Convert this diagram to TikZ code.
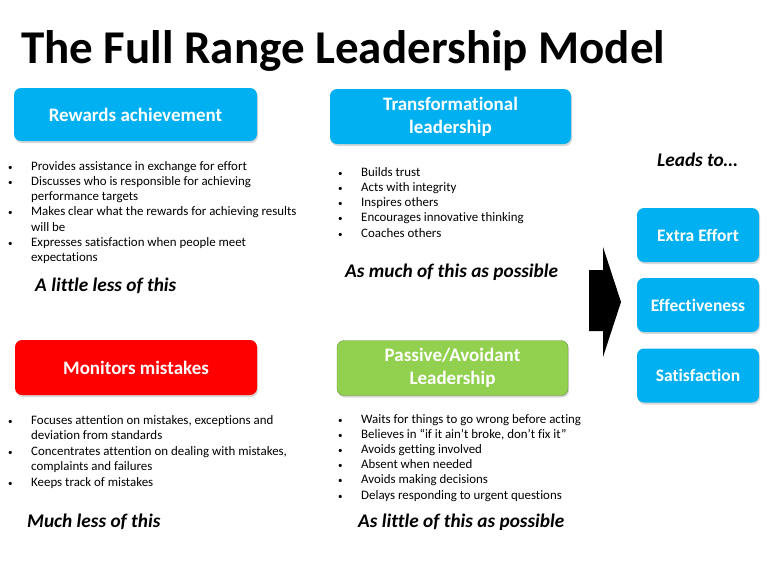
\documentclass[tikz,border=0pt]{standalone}
\usepackage{fontspec}
\setmainfont[Ligatures=NoCommon]{Carlito}
\usetikzlibrary{shadows}
\definecolor{boxblue}{HTML}{00B0F0}
\definecolor{boxred}{HTML}{FF0000}
\definecolor{boxgreen}{HTML}{92D050}
\tikzset{
  stylebox/.style={rounded corners=7pt, text=white, align=center, inner sep=0pt,
    font=\fontsize{19}{23}\selectfont\bfseries,
    drop shadow={opacity=0.3, shadow xshift=1pt, shadow yshift=-2pt}},
  resultbox/.style={stylebox, fill=boxblue, minimum width=122pt, minimum height=54pt,
    font=\fontsize{17.5}{21}\selectfont\bfseries},
  listbox/.style={anchor=base west, inner sep=0pt},
  motto/.style={anchor=base west, inner sep=0pt, font=\fontsize{19.3}{22}\selectfont\bfseries\itshape},
}
\newcommand{\bt}{\makebox[23pt][l]{\fontsize{9}{9}\selectfont\textbullet}}
\newcommand{\lst}[2]{\fontsize{12.9}{#1}\selectfont\begin{tabular}[t]{@{}l@{}l@{}}#2\end{tabular}}
\begin{document}
\begin{tikzpicture}[x=1pt,y=-1pt]
\useasboundingbox (0,0) rectangle (768,576);
\fill[white] (0,0) rectangle (768,576);

\node[anchor=base west, inner sep=0pt, font=\fontsize{47}{56}\selectfont\bfseries] (title) at (21,63) {The Full Range Leadership Model};

% style boxes
\node[stylebox, fill=boxblue, minimum width=243pt, minimum height=53pt] (rewards) at (135.5,114.5) {Rewards achievement};
\node[stylebox, fill=boxblue, minimum width=241pt, minimum height=55pt] (transf) at (450.5,116.5) {Transformational\\leadership};
\node[stylebox, fill=boxred, minimum width=242pt, minimum height=55pt] (monitors) at (136,367.5) {Monitors mistakes};
\node[stylebox, fill=boxgreen, draw=boxgreen!70!black, minimum width=231pt, minimum height=55pt] (passive) at (452.5,368) {Passive/Avoidant\\Leadership};

% bullet lists
\node[listbox] (rewardslist) at (8,170) {\lst{15.3}{
  \bt & Provides assistance in exchange for effort\\
  \bt & Discusses who is responsible for achieving\\
      & performance targets\\
  \bt & Makes clear what the rewards for achieving results\\
      & will be\\
  \bt & Expresses satisfaction when people meet\\
      & expectations}};
\node[listbox] (transflist) at (338,176) {\lst{15.25}{
  \bt & Builds trust\\
  \bt & Acts with integrity\\
  \bt & Inspires others\\
  \bt & Encourages innovative thinking\\
  \bt & Coaches others}};
\node[listbox] (monitorslist) at (8,424) {\lst{15.5}{
  \bt & Focuses attention on mistakes, exceptions and\\
      & deviation from standards\\
  \bt & Concentrates attention on dealing with mistakes,\\
      & complaints and failures\\
  \bt & Keeps track of mistakes}};
\node[listbox] (passivelist) at (338,423) {\lst{15.2}{
  \bt & Waits for things to go wrong before acting\\
  \bt & Believes in “if it ain’t broke, don’t fix it”\\
  \bt & Avoids getting involved\\
  \bt & Absent when needed\\
  \bt & Avoids making decisions\\
  \bt & Delays responding to urgent questions}};

% how much of each
\node[motto] (less) at (35,291) {A little less of this};
\node[motto] (much) at (345,277) {As much of this as possible};
\node[motto] (muchless) at (27,527) {Much less of this};
\node[motto] (little) at (358,527) {As little of this as possible};

% outcomes
\node[motto] (leads) at (657,166) {Leads to…};
\fill[black] (589,270) -- (603,270) -- (603,247) -- (621,302) -- (603,357) -- (603,331) -- (589,331) -- cycle;
\node[resultbox] (effort) at (698,235) {Extra Effort};
\node[resultbox] (effect) at (698,305) {Effectiveness};
\node[resultbox] (satisf) at (698,375.5) {Satisfaction};

\end{tikzpicture}
\end{document}
